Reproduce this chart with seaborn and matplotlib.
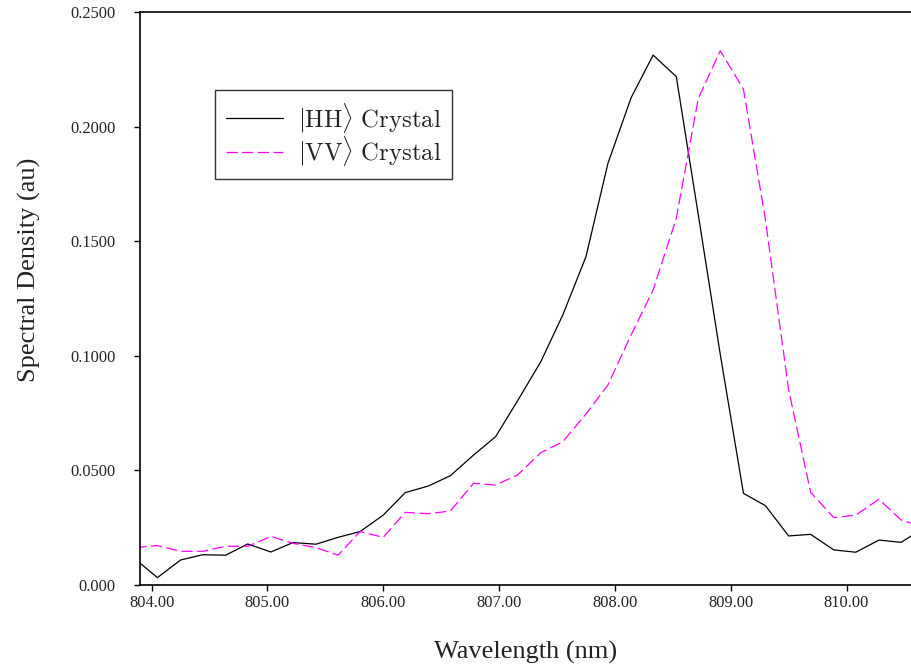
import matplotlib
matplotlib.use("Agg")
import matplotlib.pyplot as plt
import pandas as pd
import seaborn as sns
from matplotlib.ticker import FixedLocator, FuncFormatter

# wavelength grid (nm) and the two spectra
wavelength = [
    803.86, 804.05, 804.25, 804.44, 804.64, 804.83, 805.03, 805.22, 805.42,
    805.61, 805.80, 806.00, 806.19, 806.39, 806.58, 806.78, 806.97, 807.16,
    807.36, 807.55, 807.75, 807.94, 808.14, 808.33, 808.53, 808.72, 808.91,
    809.11, 809.30, 809.50, 809.69, 809.89, 810.08, 810.28, 810.47, 810.66,
]
hh_density = [
    0.0113, 0.0032, 0.0109, 0.0132, 0.0130, 0.0179, 0.0144, 0.0185, 0.0178,
    0.0208, 0.0233, 0.0305, 0.0403, 0.0432, 0.0477, 0.0567, 0.0647, 0.0804,
    0.0974, 0.1178, 0.1432, 0.1840, 0.2126, 0.2312, 0.2218, 0.1615, 0.1005,
    0.0400, 0.0346, 0.0214, 0.0221, 0.0153, 0.0143, 0.0196, 0.0186, 0.0246,
]
vv_density = [
    0.0163, 0.0172, 0.0147, 0.0147, 0.0169, 0.0169, 0.0212, 0.0182, 0.0163,
    0.0130, 0.0233, 0.0208, 0.0317, 0.0311, 0.0323, 0.0444, 0.0436, 0.0480,
    0.0577, 0.0625, 0.0746, 0.0873, 0.1091, 0.1287, 0.1600, 0.2123, 0.2331,
    0.2163, 0.1592, 0.0851, 0.0404, 0.0294, 0.0305, 0.0374, 0.0284, 0.0252,
]
x_ticks = [804, 805, 806, 807, 808, 809, 810]
y_ticks = [0.0, 0.05, 0.10, 0.15, 0.20, 0.25]
series_labels = [r"$|\mathrm{HH}\rangle\ \mathrm{Crystal}$",
                 r"$|\mathrm{VV}\rangle\ \mathrm{Crystal}$"]

df = pd.DataFrame({"wavelength": wavelength, "hh": hh_density, "vv": vv_density})

sns.set_theme(style="ticks")
plt.rcParams["font.family"] = ["Liberation Serif", "DejaVu Serif"]
plt.rcParams["mathtext.fontset"] = "cm"
plt.rcParams["axes.linewidth"] = 1.2
plt.rcParams["xtick.major.width"] = 1.0
plt.rcParams["ytick.major.width"] = 1.0

fig = plt.figure(figsize=(9.12, 6.69), dpi=100)
ax = fig.add_axes([140 / 912, 84 / 669, 772 / 912, 573 / 669])

sns.lineplot(data=df, x="wavelength", y="hh", ax=ax, color="black",
             linewidth=0.9, label=series_labels[0])
sns.lineplot(data=df, x="wavelength", y="vv", ax=ax, color="#ff00ff",
             linewidth=0.9, linestyle=(0, (9, 3.5)), label=series_labels[1])

ax.set_xlim(803.9, 810.565)
ax.set_ylim(0, 0.25)
ax.xaxis.set_major_locator(FixedLocator(x_ticks))
ax.yaxis.set_major_locator(FixedLocator(y_ticks))
ax.xaxis.set_major_formatter(FuncFormatter(lambda v, p: f"{v:.2f}"))
ax.yaxis.set_major_formatter(
    FuncFormatter(lambda v, p: "0.000" if abs(v) < 1e-9 else f"{v:.4f}"))
ax.tick_params(axis="both", direction="out", length=4.5, colors="black",
               labelsize=11.8, labelcolor="#222222")
ax.tick_params(axis="y", pad=12.8)
ax.tick_params(axis="x", pad=3)

ax.spines["right"].set_visible(False)
for side in ["left", "bottom", "top"]:
    ax.spines[side].set_color("black")

ax.set_xlabel("Wavelength (nm)", fontsize=19, color="#222222")
ax.set_ylabel("Spectral Density (au)", fontsize=19, color="#222222")
ax.xaxis.set_label_coords(0.5, -0.0978)
ax.yaxis.set_label_coords(-0.128, 0.55)

leg = ax.legend(loc="upper left", bbox_to_anchor=(0.0972, 0.864),
                borderaxespad=0, fontsize=17.8, frameon=True, fancybox=False,
                handlelength=2.3, handletextpad=0.62, borderpad=0.44,
                labelspacing=0.0)
leg.get_frame().set_edgecolor("black")
leg.get_frame().set_linewidth(1.0)
for t in leg.get_texts():
    t.set_color("#222222")

fig.savefig("out.png", dpi=100)
